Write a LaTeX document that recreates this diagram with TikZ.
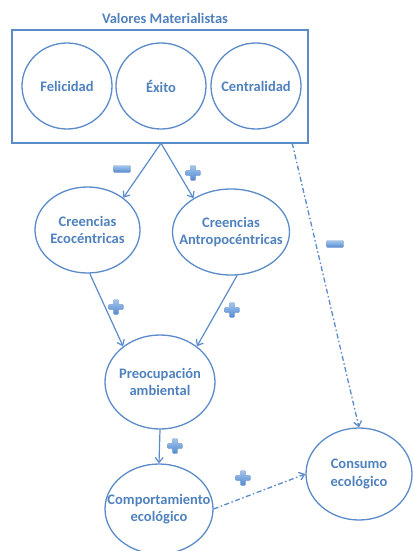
\documentclass[tikz,border=0pt]{standalone}
\usepackage{fontspec}
\setmainfont{Carlito}
\usetikzlibrary{shapes.geometric,arrows.meta}
\definecolor{lineblue}{HTML}{5B8BC9}
\definecolor{textblue}{HTML}{4F81BD}
\definecolor{signtop}{HTML}{A4C6EE}
\definecolor{signbot}{HTML}{5289D0}
\tikzset{
  bubble/.style={ellipse, draw=lineblue, line width=1.3pt, inner sep=0pt,
    label={[align=center, text=textblue]center:#1}},
  link/.style={-{Straight Barb[length=5pt,width=8pt]}, draw=lineblue, line width=1.2pt},
  dashlink/.style={link, line width=1.3pt, dash pattern=on 5pt off 2.5pt on 1.5pt off 2.5pt},
  pics/plussign/.style={code={
    \shade[top color=signtop, bottom color=signbot, draw=signbot!80!black!60, line width=0.4pt, rounded corners=1pt]
      (-2.6,-7.5) -- (2.6,-7.5) -- (2.6,-2.6) -- (7.5,-2.6) -- (7.5,2.6) -- (2.6,2.6) -- (2.6,7.5)
      -- (-2.6,7.5) -- (-2.6,2.6) -- (-7.5,2.6) -- (-7.5,-2.6) -- (-2.6,-2.6) -- cycle;}},
  pics/minussign/.style={code={
    \shade[top color=signtop, bottom color=signbot, draw=signbot!80!black!60, line width=0.4pt, rounded corners=1pt]
      (-8.5,-3.5) rectangle (8.5,3.5);}},
}
\begin{document}
\begin{tikzpicture}[x=1pt, y=-1pt, every node/.style={font=\fontsize{14.5}{17.5}\selectfont\bfseries}]
  \useasboundingbox (0,0) rectangle (412,551);
  % Draw the values box and its three circles
  \node[text=textblue] (title) at (165,18) {Valores Materialistas};
  \draw[lineblue, line width=1.3pt] (12,30) rectangle (308,143);
  \node[inner sep=0pt, minimum width=296pt, minimum height=113pt] (box) at (160,86.5) {};
  \foreach \name/\txt/\x in {fel/Felicidad/67, exi/Éxito/161, cen/Centralidad/256} {
    \node[bubble=\txt, minimum width=90pt, minimum height=86pt] (\name) at (\x,86) {};
  }
  \coordinate (split) at (box.south -| exi.south);
  \coordinate (corner) at ([xshift=-16pt]box.south east);
  % Draw the other ellipses
  \node[bubble={Creencias\\Ecocéntricas}, minimum width=105pt, minimum height=86pt] (eco) at (87.5,230) {};
  \node[bubble={Creencias\\Antropocéntricas}, minimum width=117pt, minimum height=86pt] (antro) at (231,232) {};
  \node[bubble={Preocupación\\ambiental}, minimum width=110pt, minimum height=94pt] (preo) at (160,382) {};
  \node[bubble={Comportamiento\\ecológico}, minimum width=108pt, minimum height=90pt] (comp) at (159,509) {};
  \node[bubble={Consumo\\ecológico}, minimum width=106pt, minimum height=92pt] (cons) at (359,474) {};
  % Draw the arrows
  \draw[link] (split) -- (eco.42);
  \draw[link] (split) -- (antro.138);
  \draw[link] (eco.273) -- (preo.136);
  \draw[link] (antro.278) -- (preo.44);
  \draw[link] (preo.south) -- (comp.north);
  \draw[dashlink] (comp.east) -- (cons.west);
  \draw[dashlink] (corner) -- (cons.north);
  % Draw the signs
  \pic at (122,169) {minussign};
  \pic at (193,173) {plussign};
  \pic at (116,307) {plussign};
  \pic at (232,310) {plussign};
  \pic at (175,446) {plussign};
  \pic at (243,478) {plussign};
  \pic at (335,244) {minussign};
\end{tikzpicture}
\end{document}
